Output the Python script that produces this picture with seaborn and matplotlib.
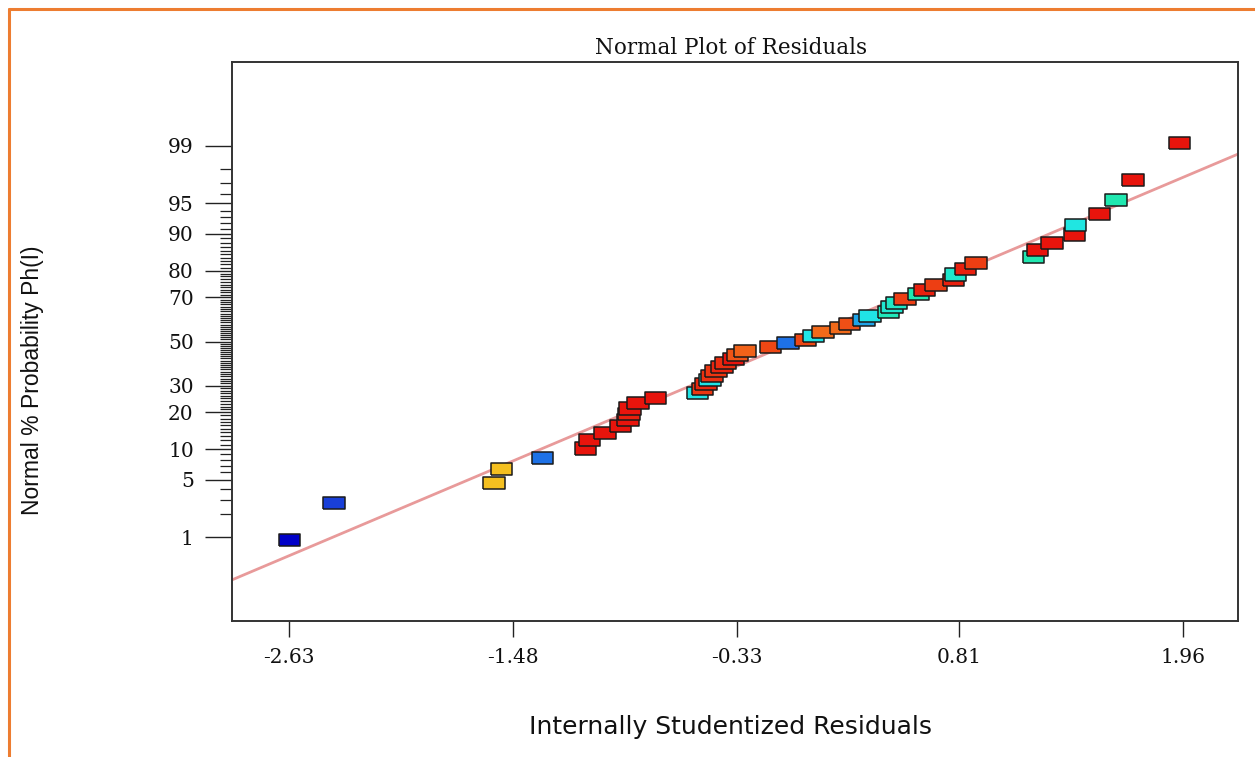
import numpy as np
import pandas as pd
import matplotlib
matplotlib.use("Agg")
import matplotlib.pyplot as plt
from matplotlib.colors import LinearSegmentedColormap
from matplotlib.lines import Line2D
from matplotlib.markers import MarkerStyle
from matplotlib.ticker import FixedLocator, FixedFormatter, NullFormatter
from statistics import NormalDist
import seaborn as sns

# Internally studentized residuals, sorted ascending
residuals = [
    -2.63, -2.40, -1.58, -1.54, -1.33, -1.11, -1.09, -1.01, -0.93, -0.89,
    -0.885, -0.88, -0.84, -0.75, -0.535, -0.51, -0.49, -0.47, -0.46, -0.44,
    -0.41, -0.39, -0.35, -0.33, -0.29, -0.16, -0.07, 0.02, 0.06, 0.11,
    0.20, 0.245, 0.32, 0.35, 0.445, 0.465, 0.486, 0.53, 0.60, 0.63,
    0.69, 0.78, 0.79, 0.84, 0.895, 1.19, 1.21, 1.285, 1.40, 1.405,
    1.53, 1.615, 1.70, 1.94,
]

# Normal % probability of each ranked residual
normal_pct = [
    0.93, 2.78, 4.63, 6.48, 8.33, 10.19, 12.04, 13.89, 15.74, 17.59,
    19.44, 21.30, 23.15, 25.00, 26.85, 28.70, 30.56, 32.41, 34.26, 36.11,
    37.96, 39.81, 41.67, 43.52, 45.37, 47.22, 49.07, 50.93, 52.78, 54.63,
    56.48, 58.33, 60.19, 62.04, 63.89, 65.74, 67.59, 69.44, 71.30, 73.15,
    75.00, 76.85, 78.70, 80.56, 82.41, 84.26, 86.11, 87.96, 89.81, 91.67,
    93.52, 95.37, 97.22, 99.07,
]

# Relative response level of each run (0 = lowest, 1 = highest)
response_level = [
    0.00, 0.10, 0.60, 0.60, 0.19, 1.00, 1.00, 1.00, 1.00, 1.00,
    0.97, 1.00, 1.00, 1.00, 0.30, 0.92, 0.95, 0.30, 0.93, 0.92,
    0.96, 0.94, 1.00, 0.85, 0.82, 0.88, 0.19, 0.88, 0.30, 0.80,
    0.80, 0.86, 0.24, 0.30, 0.38, 0.34, 0.36, 0.90, 0.40, 0.97,
    0.90, 0.97, 0.35, 0.97, 0.90, 0.40, 1.00, 1.00, 1.00, 0.31,
    1.00, 0.40, 1.00, 1.00,
]

x_ticks = [-2.63, -1.48, -0.33, 0.81, 1.96]
x_tick_labels = ["-2.63", "-1.48", "-0.33", "0.81", "1.96"]
y_ticks = [1, 5, 10, 20, 30, 50, 70, 80, 90, 95, 99]
y_minor_ticks = [p for p in range(2, 99) if p not in y_ticks]

# Reference line: residual = line_center + line_scale * z
line_center = -0.033
line_scale = 1.021

x_limits = (-2.924, 2.24)
z_limit = 3.32

_nd = NormalDist()


def pct_to_z(p):
    p = np.clip(np.asarray(p, dtype=float) / 100.0, 1e-12, 1 - 1e-12)
    return np.vectorize(_nd.inv_cdf, otypes=[float])(p)


def z_to_pct(z):
    z = np.asarray(z, dtype=float)
    return 100.0 * np.vectorize(_nd.cdf, otypes=[float])(z)


df = pd.DataFrame({"residual": residuals, "pct": normal_pct, "level": response_level})

design_cmap = LinearSegmentedColormap.from_list(
    "design",
    [(0.00, "#0000c8"), (0.10, "#1a40d8"), (0.20, "#1e78e8"), (0.30, "#20e6e6"),
     (0.40, "#20e8b0"), (0.60, "#f5c020"), (0.80, "#f26a1a"), (1.00, "#e8140c")],
)

sns.set_style("white")
plt.rcParams["axes.unicode_minus"] = False

fig = plt.figure(figsize=(12.55, 7.57), dpi=100)
ax = fig.add_axes([232 / 1255, 1 - 621 / 757, 1006 / 1255, 559 / 757])
ax.set_yscale("function", functions=(pct_to_z, z_to_pct))

# Fitted normal reference line
line_x = np.array(x_limits)
line_pct = z_to_pct((line_x - line_center) / line_scale)
ax.plot(line_x, line_pct, color="#e89a9a", lw=2.0, zorder=1, solid_capstyle="butt")

rect_marker = MarkerStyle([(-1, -0.56), (1, -0.56), (1, 0.56), (-1, 0.56), (-1, -0.56)])
sns.scatterplot(
    data=df, x="residual", y="pct", hue="level", palette=design_cmap,
    hue_norm=(0, 1), marker=rect_marker, s=240, edgecolor="#1a1a1a",
    linewidth=1.1, legend=False, ax=ax, zorder=3,
)

ax.set_xlim(*x_limits)
ax.set_ylim(z_to_pct(-z_limit), z_to_pct(z_limit))

ax.xaxis.set_major_locator(FixedLocator(x_ticks))
ax.xaxis.set_major_formatter(FixedFormatter(x_tick_labels))
ax.yaxis.set_major_locator(FixedLocator(y_ticks))
ax.yaxis.set_major_formatter(FixedFormatter([str(v) for v in y_ticks]))
ax.yaxis.set_minor_locator(FixedLocator(y_minor_ticks))
ax.yaxis.set_minor_formatter(NullFormatter())

for lab in ax.get_xticklabels() + ax.get_yticklabels():
    lab.set_fontfamily("DejaVu Serif")
    lab.set_fontsize(14.5)
    lab.set_color("#111111")

ax.tick_params(axis="x", which="major", direction="out", length=11.5, width=1.0,
               color="#222222", pad=8, bottom=True)
ax.tick_params(axis="y", which="major", direction="out", length=19.5, width=1.0,
               color="#222222", pad=8, left=True)
ax.tick_params(axis="y", which="minor", direction="out", length=8.5, width=0.9,
               color="#222222", left=True)

for side in ax.spines.values():
    side.set_visible(True)
    side.set_color("#333333")
    side.set_linewidth(1.4)

ax.set_xlabel("")
ax.set_ylabel("")

fig.text(731 / 1255, 1 - 48 / 757, "Normal Plot of Residuals", ha="center", va="center",
         fontfamily="DejaVu Serif", fontsize=15.5, color="#111111")
fig.text(731 / 1255, 1 - 727 / 757, "Internally Studentized Residuals", ha="center",
         va="center", fontfamily="DejaVu Sans", fontsize=18, color="#111111")
fig.text(33 / 1255, 1 - 380 / 757, "Normal % Probability Ph(I)", ha="center", va="center",
         rotation=90, fontfamily="Liberation Sans", fontsize=16.5, color="#111111")

# Orange frame around the figure
frame_color = "#ed7d31"
fig.add_artist(Line2D([9 / 1255, 9 / 1255], [0, 1 - 9 / 757], transform=fig.transFigure,
                      color=frame_color, lw=2.2))
fig.add_artist(Line2D([9 / 1255, 1], [1 - 9 / 757, 1 - 9 / 757], transform=fig.transFigure,
                      color=frame_color, lw=2.2))

fig.savefig("out.png", dpi=100, facecolor="white")
